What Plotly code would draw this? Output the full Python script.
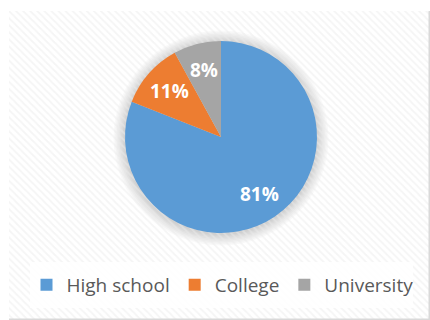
import math
import plotly.graph_objects as go

categories = ["High school", "College", "University"]
values = [81, 11, 8]
colors = ["#5B9BD5", "#ED7D31", "#A5A5A5"]

W, H = 430, 320
CX, CY, R = 221, 137, 96  # pie centre / radius in pixels
LABEL_FRAC = 0.72

fig = go.Figure()

# hatched chart-area background with border
fig.add_trace(go.Bar(
    x=[0], y=[1], width=[1], showlegend=False, hoverinfo="skip",
    marker=dict(color="rgba(0,0,0,0)",
                line=dict(color="#D9D9D9", width=1.5),
                pattern=dict(shape="\\", fgcolor="#EBEBEB", bgcolor="rgba(0,0,0,0)",
                             size=5, solidity=0.35)),
    xaxis="x", yaxis="y",
))

fig.add_trace(go.Pie(
    labels=categories, values=values,
    marker=dict(colors=colors, line=dict(color="white", width=0)),
    sort=False, direction="clockwise", rotation=0,
    textinfo="none",
    domain=dict(x=[(CX - R) / W, (CX + R) / W], y=[1 - (CY + R) / H, 1 - (CY - R) / H]),
    showlegend=True,
))

# percentage labels placed along each slice's mid-angle
total = sum(values)
annotations = []
cum = 0
for v in values:
    mid = (cum + v / 2) / total * 2 * math.pi
    cum += v
    px = CX + LABEL_FRAC * R * math.sin(mid)
    py = CY - LABEL_FRAC * R * math.cos(mid)
    annotations.append(dict(
        x=px / W, y=1 - py / H, xref="paper", yref="paper",
        text=f"{round(v / total * 100)}%", showarrow=False,
        font=dict(family="Open Sans", size=19, color="white", weight="bold"),
        xanchor="center", yanchor="middle"))

# soft shadow around the pie
shapes = []
for i in range(8):
    rr = R + 1 + i * 1.5
    shapes.append(dict(type="circle", xref="paper", yref="paper",
                       x0=(CX - rr) / W, x1=(CX + rr) / W,
                       y0=1 - (CY + rr + 1) / H, y1=1 - (CY - rr + 1) / H,
                       fillcolor="rgba(0,0,0,0.022)", line=dict(width=0), layer="below"))
shapes.append(dict(type="rect", xref="paper", yref="paper",
                   x0=30 / W, x1=413 / W, y0=1 - 308 / H, y1=1 - 262 / H,
                   fillcolor="rgba(255,255,255,0.85)", line=dict(width=0), layer="above"))

fig.update_layout(
    width=W, height=H,
    margin=dict(l=0, r=0, t=0, b=0),
    paper_bgcolor="white",
    plot_bgcolor="rgba(0,0,0,0)",
    xaxis=dict(domain=[9 / W, 1.0], range=[-0.5, 0.5], visible=False, fixedrange=True),
    yaxis=dict(domain=[0, 1 - 11 / H], range=[0, 1], visible=False, fixedrange=True),
    bargap=0,
    legend=dict(orientation="h", x=222.5 / W, xanchor="center", y=1 - 285 / H, yanchor="middle",
                font=dict(family="Open Sans", size=19, color="#595959"),
                bgcolor="rgba(0,0,0,0)", itemwidth=30, traceorder="normal"),
    shapes=shapes,
    annotations=annotations,
    showlegend=True,
)

fig.write_html("out.html")
